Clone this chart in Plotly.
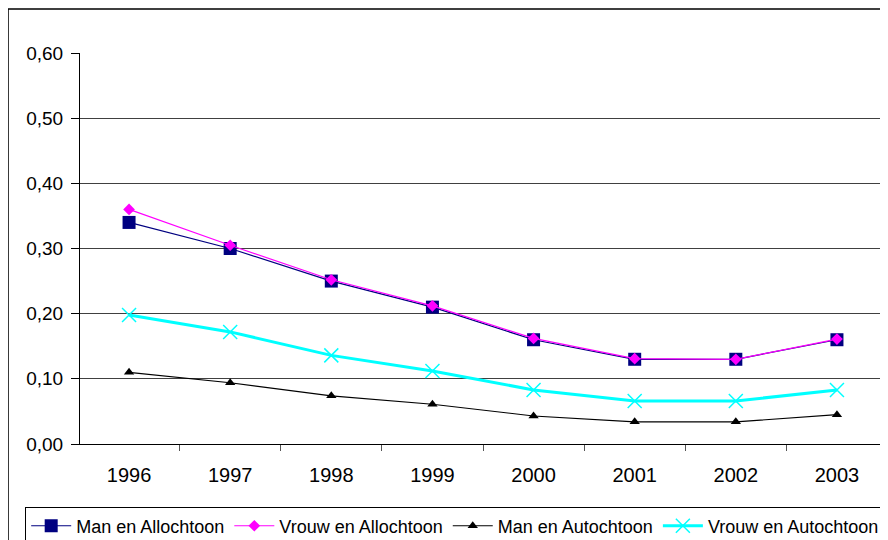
import plotly.graph_objects as go

years = ["1996", "1997", "1998", "1999", "2000", "2001", "2002", "2003"]
man_allochtoon = [0.34, 0.30, 0.25, 0.21, 0.16, 0.13, 0.13, 0.16]
vrouw_allochtoon = [0.36, 0.305, 0.252, 0.212, 0.162, 0.131, 0.13, 0.161]
man_autochtoon = [0.11, 0.094, 0.074, 0.061, 0.043, 0.034, 0.034, 0.045]
vrouw_autochtoon = [0.198, 0.172, 0.136, 0.112, 0.083, 0.066, 0.066, 0.083]

fig = go.Figure()

fig.add_trace(go.Scatter(
    x=years, y=man_allochtoon, name="Man en Allochtoon",
    mode="lines+markers",
    line=dict(color="#000080", width=1.2),
    marker=dict(symbol="square", size=13, color="#000080"),
))
fig.add_trace(go.Scatter(
    x=years, y=vrouw_allochtoon, name="Vrouw en Allochtoon",
    mode="lines+markers",
    line=dict(color="#FF00FF", width=1.2),
    marker=dict(symbol="diamond", size=9, color="#FF00FF"),
))
fig.add_trace(go.Scatter(
    x=years, y=man_autochtoon, name="Man en Autochtoon",
    mode="lines+markers",
    line=dict(color="black", width=1.2),
    marker=dict(symbol="triangle-up", size=9, color="black"),
))
fig.add_trace(go.Scatter(
    x=years, y=vrouw_autochtoon, name="Vrouw en Autochtoon",
    mode="lines+markers",
    line=dict(color="#00FFFF", width=3),
    marker=dict(symbol="x-thin-open", size=14, color="#00FFFF",
                line=dict(color="#00FFFF", width=1.5)),
))

# outer chart frame
fig.add_shape(type="rect", xref="paper", yref="paper",
              x0=-0.0893, x1=1.05, y0=-0.3, y1=1.1125,
              line=dict(color="black", width=1.5), layer="below")

# page body has an 8px margin, so the figure is 8px smaller than the window
fig.update_layout(
    width=880, height=532,
    margin=dict(l=72, r=2, t=45, b=96, autoexpand=False),
    plot_bgcolor="white", paper_bgcolor="white",
    separators=",.",
    font=dict(family="Liberation Sans, Arial, sans-serif", size=18, color="black"),
    showlegend=True,
    legend=dict(
        orientation="h", x=-0.068, y=-0.16, xanchor="left", yanchor="top",
        bordercolor="black", borderwidth=1,
        font=dict(size=18), itemwidth=40,
    ),
)
fig.update_xaxes(
    type="category", showgrid=False, ticks="outside", tickson="boundaries",
    ticklen=6, tickcolor="#555", showline=True, linecolor="black",
    tickfont=dict(size=20), ticklabelstandoff=13, automargin=False,
)
fig.update_yaxes(
    range=[0, 0.6], dtick=0.1, tickformat=".2f",
    showgrid=True, gridcolor="#404040", gridwidth=1,
    ticks="outside", ticklen=8, tickcolor="black",
    showline=True, linecolor="black", zeroline=False,
    tickfont=dict(size=19), ticklabelstandoff=4, automargin=False,
)
# right border of plot area
fig.add_shape(type="line", xref="paper", yref="paper",
              x0=1, x1=1, y0=0, y1=1, line=dict(color="#808080", width=1))

fig.write_html("out.html")
